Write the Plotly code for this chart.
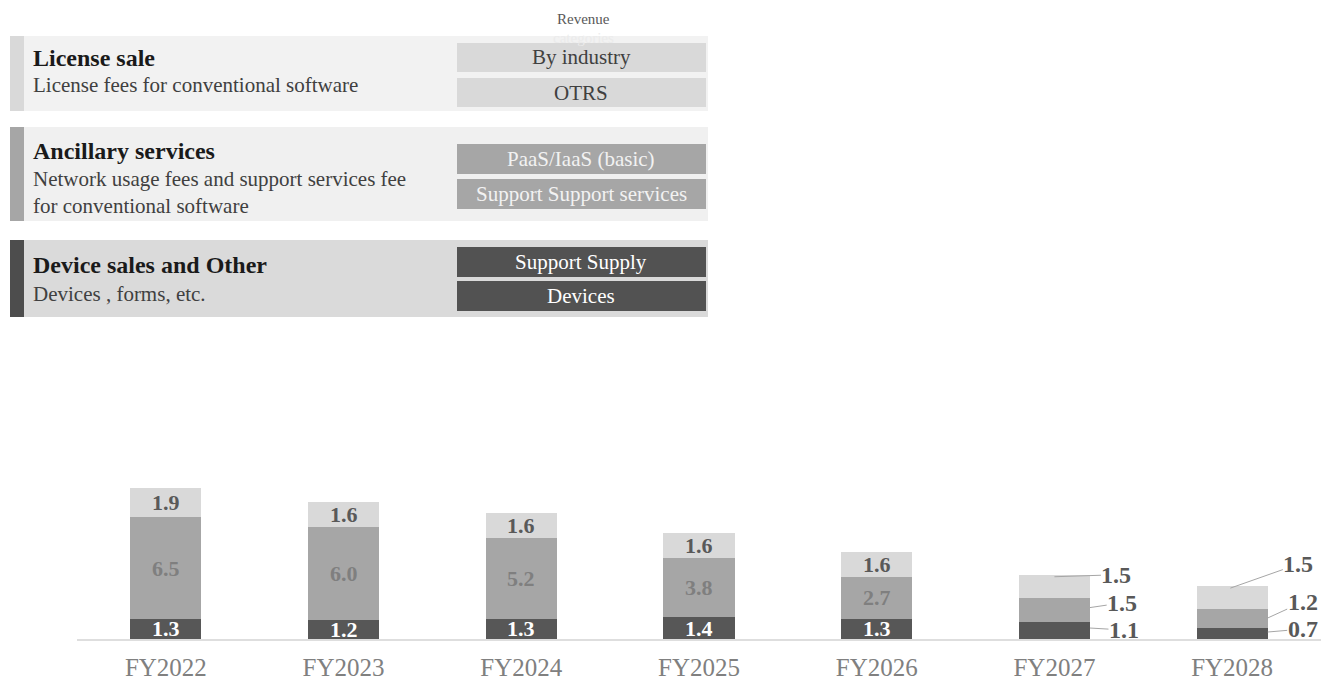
import plotly.graph_objects as go

# ---------------- data ----------------
years = ["FY2022", "FY2023", "FY2024", "FY2025", "FY2026", "FY2027", "FY2028"]
device_other = [1.3, 1.2, 1.3, 1.4, 1.3, 1.1, 0.7]
ancillary = [6.5, 6.0, 5.2, 3.8, 2.7, 1.5, 1.2]
license_sale = [1.9, 1.6, 1.6, 1.6, 1.6, 1.5, 1.5]
value_labels_dev = ["1.3", "1.2", "1.3", "1.4", "1.3", "1.1", "0.7"]
value_labels_anc = ["6.5", "6.0", "5.2", "3.8", "2.7", "1.5", "1.2"]
value_labels_lic = ["1.9", "1.6", "1.6", "1.6", "1.6", "1.5", "1.5"]

block_titles = ["License sale", "Ancillary services", "Device sales and Other"]
block_descs = ["License fees for conventional software",
               "Network usage fees and support services fee<br>for conventional software",
               "Devices , forms, etc."]
block_boxes = [["By industry", "OTRS"],
               ["PaaS/IaaS (basic)", "Support Support services"],
               ["Support Supply", "Devices"]]
header_text = "Revenue"
header_text2 = "categories"

# ---------------- styles ----------------
FONT = "Liberation Serif"
C_DARK = "#575757"
C_MID = "#a6a6a6"
C_LIGHT = "#d9d9d9"

W, H = 1321, 683
ML, MR, MT, MB = 77, 0, 452, 44
PW = W - ML - MR
PH = H - MT - MB
YMAX = 12.0


def px(x):
    return (x - ML) / PW


def py(y):
    return (H - MB - y) / PH


fig = go.Figure()
for vals, col, name in [(device_other, C_DARK, "Device sales and Other"),
                        (ancillary, C_MID, "Ancillary services"),
                        (license_sale, C_LIGHT, "License sale")]:
    fig.add_trace(go.Bar(x=years, y=vals, marker=dict(color=col, line=dict(width=0)),
                         name=name, hoverinfo="skip"))

annotations = []
shapes = []

seg_sets = [(device_other, value_labels_dev, "#ffffff"),
            (ancillary, value_labels_anc, "#7f7f7f"),
            (license_sale, value_labels_lic, "#595959")]
# leader-line style per (year index, segment index): (frac in segment, dx in category units, ax, ay)
outside_style = {
    (5, 2): (0.93, 0.0, 62, -2), (5, 1): (0.6, 0.19, 34, -5), (5, 0): (0.64, 0.2, 34, 2),
    (6, 2): (0.91, -0.01, 68, -24), (6, 1): (0.54, 0.2, 35, -16), (6, 0): (0.64, 0.2, 35, -3),
}
for i in range(len(years)):
    base = 0.0
    for s, (vals, labels, tcol) in enumerate(seg_sets):
        v = vals[i]
        if (i, s) in outside_style:
            frac, dx, ax, ay = outside_style[(i, s)]
            annotations.append(dict(
                x=i + dx, y=base + frac * v, xref="x", yref="y", text="<b>%s</b>" % labels[i],
                showarrow=True, arrowhead=0, arrowwidth=1, arrowcolor="#a6a6a6",
                ax=ax, ay=ay, axref="pixel", ayref="pixel", standoff=0, borderpad=0,
                font=dict(family=FONT, size=24, color="#595959")))
        else:
            annotations.append(dict(
                x=i, y=base + v / 2, xref="x", yref="y", text="<b>%s</b>" % labels[i],
                showarrow=False, font=dict(family=FONT, size=22, color=tcol),
                xanchor="center", yanchor="middle"))
        base += v

# ---------------- top legend panel ----------------
blocks = [
    dict(y0=36, y1=111, bg="#f2f2f2", acc=C_LIGHT, box=C_LIGHT, btxt="#404040",
         ty=58, dy=85, boxes=[(43, 72), (78, 107)]),
    dict(y0=127, y1=221, bg="#f0f0f0", acc=C_MID, box=C_MID, btxt="#f2f2f2",
         ty=151, dy=193, boxes=[(144, 174), (179, 209)]),
    dict(y0=240, y1=317, bg="#dadada", acc="#4d4d4d", box="#525252", btxt="#ffffff",
         ty=265, dy=294, boxes=[(247, 277), (281, 311)]),
]

annotations.append(dict(x=px(583), y=py(19), xref="paper", yref="paper", text=header_text,
                        showarrow=False, xanchor="center", yanchor="middle",
                        font=dict(family=FONT, size=15, color="#595959")))
annotations.append(dict(x=px(583), y=py(38), xref="paper", yref="paper", text=header_text2,
                        showarrow=False, xanchor="center", yanchor="middle",
                        font=dict(family=FONT, size=15, color="#ebebeb")))

for k, b in enumerate(blocks):
    shapes.append(dict(type="rect", xref="paper", yref="paper", x0=px(11), x1=px(708),
                       y0=py(b["y1"]), y1=py(b["y0"]), fillcolor=b["bg"], line=dict(width=0),
                       layer="above"))
    shapes.append(dict(type="rect", xref="paper", yref="paper", x0=px(10), x1=px(24),
                       y0=py(b["y1"]), y1=py(b["y0"]), fillcolor=b["acc"], line=dict(width=0),
                       layer="above"))
    annotations.append(dict(x=px(31), y=py(b["ty"]), xref="paper", yref="paper",
                            text="<b>%s</b>" % block_titles[k], showarrow=False,
                            xanchor="left", yanchor="middle",
                            font=dict(family=FONT, size=24, color="#1a1a1a")))
    annotations.append(dict(x=px(31), y=py(b["dy"]), xref="paper", yref="paper",
                            text=block_descs[k], showarrow=False, align="left",
                            xanchor="left", yanchor="middle",
                            font=dict(family=FONT, size=21, color="#404040")))
    for j, (by0, by1) in enumerate(b["boxes"]):
        shapes.append(dict(type="rect", xref="paper", yref="paper", x0=px(457), x1=px(706),
                           y0=py(by1), y1=py(by0), fillcolor=b["box"], line=dict(width=0),
                           layer="above"))
        annotations.append(dict(x=px(581), y=py((by0 + by1) / 2), xref="paper", yref="paper",
                                text=block_boxes[k][j], showarrow=False,
                                xanchor="center", yanchor="middle",
                                font=dict(family=FONT, size=21, color=b["btxt"])))

fig.update_layout(
    width=W, height=H, autosize=False,
    margin=dict(l=ML, r=MR, t=MT, b=MB, pad=0),
    barmode="stack", bargap=0.6,
    plot_bgcolor="white", paper_bgcolor="white",
    showlegend=False,
    annotations=annotations, shapes=shapes,
    xaxis=dict(showline=True, linecolor="#dedede", linewidth=2, ticks="",
               tickfont=dict(family=FONT, size=25, color="#808080"),
               ticklabelstandoff=5, showgrid=False, zeroline=False),
    yaxis=dict(range=[0, YMAX], visible=False, showgrid=False, zeroline=False),
)

fig.write_html("out.html")
